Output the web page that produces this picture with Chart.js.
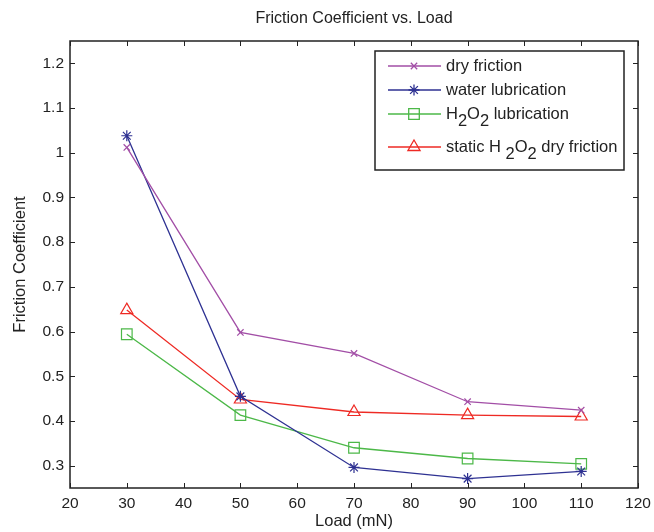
<!DOCTYPE html>
<html>
<head>
<meta charset="utf-8">
<script src="https://cdn.jsdelivr.net/npm/chart.js@4/dist/chart.umd.min.js"></script>
<style>
  html, body { margin: 0; padding: 0; background: #fff; }
  #wrap { width: 654px; height: 532px; position: relative; }
</style>
</head>
<body>
<div id="wrap"><canvas id="chartFriction"></canvas></div>
<script>
// data
const loads = [30, 50, 70, 90, 110];
const dryFriction = [1.012, 0.598, 0.551, 0.443, 0.424];
const waterLubrication = [1.038, 0.455, 0.296, 0.271, 0.287];
const h2o2Lubrication = [0.594, 0.413, 0.340, 0.316, 0.304];
const staticH2o2Dry = [0.648, 0.448, 0.420, 0.413, 0.410];

const xTicks = [20, 30, 40, 50, 60, 70, 80, 90, 100, 110, 120];
const yTicks = [0.3, 0.4, 0.5, 0.6, 0.7, 0.8, 0.9, 1.0, 1.1, 1.2];

const FONT = "'Liberation Sans', Arial, Helvetica, sans-serif";
const INK = "#222";

const series = [
  { label: [["dry friction", 0]], data: dryFriction, color: "#a24ea6", style: "crossRot", radius: 4.5 },
  { label: [["water lubrication", 0]], data: waterLubrication, color: "#2e3192", style: "star", radius: 5.5 },
  { label: [["H", 0], ["2", 1], ["O", 0], ["2", 1], [" lubrication", 0]], data: h2o2Lubrication, color: "#4cb848", style: "rect", radius: 7.5 },
  { label: [["static H ", 0], ["2", 1], ["O", 0], ["2", 1], [" dry friction", 0]], data: staticH2o2Dry, color: "#ee2a24", style: "triangle", radius: 7 },
];

/* ==================== BOX, TICKS, TITLE, LEGEND ==================== */
const matlabFrame = {
  id: "matlabFrame",
  afterDatasetsDraw(chart) {
    const { ctx, chartArea: a, scales } = chart;
    ctx.save();
    ctx.strokeStyle = INK;
    ctx.lineWidth = 1.5;
    ctx.strokeRect(a.left, a.top, a.right - a.left, a.bottom - a.top);

    // inward ticks on all four sides
    ctx.lineWidth = 1;
    ctx.beginPath();
    const tl = 5;
    xTicks.forEach((v) => {
      const x = Math.round(scales.x.getPixelForValue(v)) + 0.5;
      ctx.moveTo(x, a.bottom); ctx.lineTo(x, a.bottom - tl);
      ctx.moveTo(x, a.top); ctx.lineTo(x, a.top + tl);
    });
    yTicks.forEach((v) => {
      const y = Math.round(scales.y.getPixelForValue(v)) + 0.5;
      ctx.moveTo(a.left, y); ctx.lineTo(a.left + tl, y);
      ctx.moveTo(a.right, y); ctx.lineTo(a.right - tl, y);
    });
    ctx.stroke();

    // title
    ctx.fillStyle = INK;
    ctx.font = "16px " + FONT;
    ctx.textAlign = "center";
    ctx.textBaseline = "middle";
    ctx.fillText("Friction Coefficient vs. Load", (a.left + a.right) / 2, 19);

    // legend box
    const lx = 375, ly = 51, lw = 249, lh = 119;
    ctx.fillStyle = "#fff";
    ctx.fillRect(lx, ly, lw, lh);
    ctx.lineWidth = 1.5;
    ctx.strokeStyle = INK;
    ctx.strokeRect(lx, ly, lw, lh);

    const rowsY = [66, 90, 114, 147];
    series.forEach((s, i) => {
      const y = rowsY[i];
      ctx.strokeStyle = s.color;
      ctx.lineWidth = 1.3;
      ctx.beginPath();
      ctx.moveTo(388, y); ctx.lineTo(441, y);
      ctx.stroke();
      ctx.fillStyle = "rgba(0,0,0,0)";
      Chart.helpers.drawPoint(ctx, { pointStyle: s.style, radius: s.radius, rotation: 0, borderWidth: 1.2 }, 414, y);

      ctx.fillStyle = INK;
      ctx.font = "16.5px " + FONT;
      ctx.textAlign = "left";
      ctx.textBaseline = "middle";
      let x = 446;
      s.label.forEach(([txt, sub]) => {
        ctx.fillText(txt, x, sub ? y + 7 : y);
        x += ctx.measureText(txt).width;
      });
    });
    ctx.restore();
  },
};

/* ==================== CHART ==================== */
const datasets = series.map((s) => ({
  label: s.label.map((p) => p[0]).join(""),
  data: s.data.map((v, i) => ({ x: loads[i], y: v })),
  borderColor: s.color,
  borderWidth: 1.3,
  pointStyle: s.style,
  pointRadius: s.radius,
  pointBorderColor: s.color,
  pointBackgroundColor: "rgba(0,0,0,0)",
  pointBorderWidth: 1.2,
  tension: 0,
}));

new Chart(document.getElementById("chartFriction"), {
  type: "line",
  data: { labels: loads, datasets: datasets },
  options: {
    responsive: true,
    maintainAspectRatio: false,
    animation: false,
    layout: { padding: { top: 41, right: 16, left: 0, bottom: 0 } },
    plugins: { legend: { display: false }, title: { display: false }, tooltip: { enabled: false } },
    scales: {
      x: {
        type: "linear",
        min: 20,
        max: 120,
        afterBuildTicks: (s) => { s.ticks = xTicks.map((v) => ({ value: v })); },
        afterFit: (s) => { s.height = 44; s.paddingLeft = 0; s.paddingRight = 0; },
        grid: { display: false, drawTicks: false },
        border: { display: false },
        ticks: { color: INK, font: { family: FONT, size: 15.5 }, padding: 6, maxRotation: 0, autoSkip: false },
        title: { display: true, text: "Load (mN)", color: INK, font: { family: FONT, size: 16.5 }, padding: { top: 0, bottom: 1 } },
      },
      y: {
        type: "linear",
        min: 0.25,
        max: 1.25,
        afterBuildTicks: (s) => { s.ticks = yTicks.map((v) => ({ value: v })); },
        afterFit: (s) => { s.width = 70; s.paddingTop = 0; s.paddingBottom = 0; },
        grid: { display: false, drawTicks: false },
        border: { display: false },
        ticks: { color: INK, font: { family: FONT, size: 15.5 }, padding: 6, autoSkip: false, callback: (v) => String(+v.toFixed(1)) },
        title: { display: true, text: "Friction Coefficient", color: INK, font: { family: FONT, size: 16.5 }, padding: { top: 11, bottom: 0 } },
      },
    },
  },
  plugins: [matlabFrame],
});
</script>
</body>
</html>
